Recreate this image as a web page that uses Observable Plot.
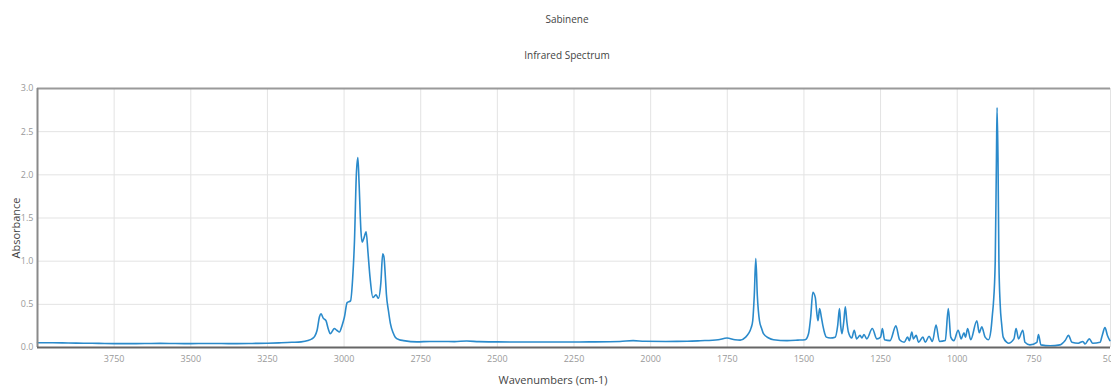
<!DOCTYPE html>
<html>
<head>
<meta charset="utf-8">
<script src="https://cdn.jsdelivr.net/npm/d3@7"></script>
<script src="https://cdn.jsdelivr.net/npm/@observablehq/plot@0.6"></script>
<style>
  html, body { margin: 0; padding: 0; background: #fff; }
  #wrap { position: relative; width: 1111px; height: 387px; font-family: "Open Sans", sans-serif; }
  .t { position: absolute; color: #444; font-size: 10px; white-space: nowrap; line-height: 1; }
  #chart { position: absolute; left: 0; top: 0; }
</style>
</head>
<body>
<div id="wrap">
  <div id="chart"></div>
  <div class="t" style="left:567px; top:14px; transform:translateX(-50%);">Sabinene</div>
  <div class="t" style="left:567px; top:50px; transform:translateX(-50%);">Infrared Spectrum</div>
  <div class="t" style="left:15px; top:228px; transform:translate(-50%,-50%) rotate(-90deg); font-size:11px;">Absorbance</div>
  <div class="t" style="left:553px; top:374px; transform:translateX(-50%); font-size:11px;">Wavenumbers (cm-1)</div>
</div>
<script>
const wavenumbers = [
  4000, 3950, 3900, 3850, 3800, 3750, 3700, 3650, 3600, 3550, 3500, 3450, 3400, 3350, 3300, 3250,
  3205, 3170, 3140, 3118, 3105, 3096, 3088, 3080, 3075, 3068, 3059, 3052, 3045, 3038, 3032, 3024,
  3015, 3007, 2999, 2990, 2979, 2972, 2966, 2960, 2955, 2951, 2945, 2941, 2935, 2928, 2922, 2915,
  2906, 2896, 2888, 2880, 2874, 2870, 2865, 2862, 2855, 2849, 2840, 2833, 2820, 2806, 2762, 2720,
  2680, 2640, 2600, 2560, 2500, 2400, 2300, 2200, 2100, 2057, 2020, 1950, 1880, 1838, 1780, 1751,
  1725, 1708, 1690, 1681, 1672, 1667, 1662, 1657, 1652, 1645, 1638, 1632, 1615, 1599, 1555, 1520,
  1496, 1485, 1478, 1471, 1463, 1458, 1454, 1449, 1443, 1438, 1432, 1427, 1414, 1398, 1390, 1384,
  1380, 1376, 1370, 1365, 1360, 1355, 1344, 1336, 1328, 1317, 1311, 1304, 1295, 1277, 1262, 1250,
  1244, 1237, 1219, 1200, 1188, 1173, 1162, 1156, 1148, 1143, 1134, 1126, 1112, 1104, 1092, 1081,
  1069, 1058, 1039, 1029, 1021, 1011, 997, 987, 978, 973, 966, 956, 936, 928, 920, 909,
  898, 890, 885, 882, 876, 872, 870, 867, 864, 860, 855, 850, 838, 833, 815, 808,
  800, 786, 779, 763, 740, 735, 727, 697, 665, 648, 637, 626, 605, 590, 583, 569,
  558, 534, 527, 518, 510, 502
];
const absorbance = [
  0.055, 0.055, 0.052, 0.05, 0.048, 0.045, 0.045, 0.046, 0.048, 0.046, 0.045, 0.047, 0.046, 0.045, 0.047, 0.05,
  0.055, 0.06, 0.065, 0.08, 0.1, 0.13, 0.2, 0.36, 0.39, 0.34, 0.31, 0.22, 0.16, 0.19, 0.22, 0.2,
  0.18, 0.25, 0.35, 0.52, 0.54, 0.8, 1.24, 2.0, 2.2, 1.9, 1.35, 1.22, 1.27, 1.34, 1.1, 0.8,
  0.58, 0.61, 0.57, 0.75, 1.085, 1.05, 0.8, 0.62, 0.42, 0.28, 0.17, 0.12, 0.09, 0.08, 0.065, 0.07,
  0.07, 0.068, 0.075, 0.068, 0.065, 0.063, 0.063, 0.065, 0.07, 0.08, 0.072, 0.07, 0.072, 0.078, 0.09, 0.11,
  0.09, 0.085, 0.12, 0.16, 0.23, 0.31, 0.6, 1.03, 0.6, 0.31, 0.22, 0.16, 0.11, 0.09, 0.08, 0.085,
  0.09, 0.16, 0.35, 0.64, 0.58, 0.4, 0.31, 0.45, 0.35, 0.25, 0.16, 0.12, 0.11, 0.12, 0.25, 0.45,
  0.25, 0.16, 0.3, 0.47, 0.3, 0.18, 0.11, 0.2, 0.1, 0.14, 0.11, 0.15, 0.1, 0.22, 0.1, 0.12,
  0.22, 0.09, 0.08, 0.25, 0.09, 0.06, 0.12, 0.08, 0.18, 0.1, 0.14, 0.06, 0.12, 0.06, 0.13, 0.07,
  0.26, 0.07, 0.08, 0.45, 0.12, 0.08, 0.2, 0.1, 0.17, 0.12, 0.22, 0.09, 0.31, 0.17, 0.24, 0.12,
  0.09, 0.2, 0.39, 0.51, 1.0, 2.2, 2.78, 2.2, 1.0, 0.51, 0.27, 0.12, 0.06, 0.05, 0.1, 0.22,
  0.1, 0.2, 0.06, 0.03, 0.06, 0.15, 0.03, 0.02, 0.03, 0.08, 0.14, 0.06, 0.05, 0.07, 0.04, 0.1,
  0.05, 0.06, 0.14, 0.23, 0.14, 0.08
];
const xTicks = [3750, 3500, 3250, 3000, 2750, 2500, 2250, 2000, 1750, 1500, 1250, 1000, 750, 500];
const yTicks = [0, 0.5, 1.0, 1.5, 2.0, 2.5, 3.0];

const data = wavenumbers.map((w, i) => ({w, a: absorbance[i]}));

const chart = Plot.plot({
  width: 1111,
  height: 387,
  marginTop: 88,
  marginBottom: 40,
  marginLeft: 37,
  marginRight: 1,
  style: {fontFamily: "'Open Sans', sans-serif", fontSize: "9px", color: "#999", background: "#fff"},
  x: {domain: [4000, 500]},
  y: {domain: [0, 3]},
  marks: [
    Plot.gridX(xTicks, {stroke: "#e3e3e3", strokeOpacity: 1}),
    Plot.gridY(yTicks, {stroke: "#e3e3e3", strokeOpacity: 1}),
    Plot.axisX(xTicks, {tickSize: 0, tickPadding: 8, label: null, fill: "#999", tickFormat: d3.format("d")}),
    Plot.axisY(yTicks, {tickSize: 0, tickPadding: 4, label: null, tickFormat: d3.format(".1f"), fill: "#999"}),
    Plot.line(data, {x: "w", y: "a", stroke: "#2a8acb", strokeWidth: 1.6, curve: "monotone-x"}),
    Plot.ruleY([3], {stroke: "#9a9a9a", strokeWidth: 2}),
    Plot.ruleX([4000], {stroke: "#8a8a8a", strokeWidth: 2}),
    Plot.ruleY([0], {stroke: "#666", strokeWidth: 2})
  ]
});
document.getElementById("chart").appendChild(chart);
</script>
</body>
</html>
